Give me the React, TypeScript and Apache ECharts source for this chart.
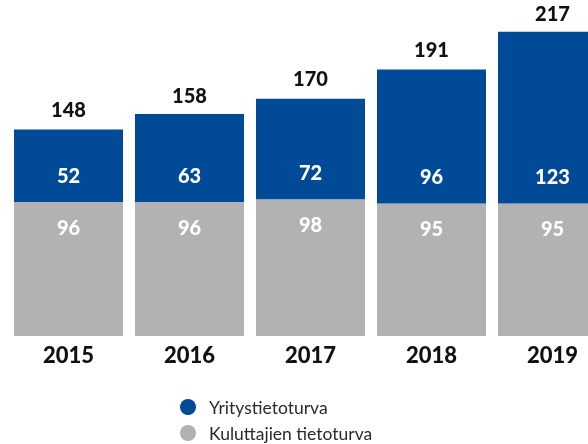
import React, { useEffect, useRef } from "react";
import * as echarts from "echarts";

const years = ["2015", "2016", "2017", "2018", "2019"];
const yritys = [52, 63, 72, 96, 123];
const kuluttajat = [96, 96, 98, 95, 95];
const totals = [148, 158, 170, 191, 217];

const BLUE = "#004A98";
const GRAY = "#B2B2B4";
const FONT = "Lato";

export default function App() {
  const ref = useRef<HTMLDivElement>(null);
  useEffect(() => {
    if (!ref.current) return;
    const chart = echarts.init(ref.current, null, { renderer: "svg" });
    chart.setOption({
      animation: false,
      textStyle: { fontFamily: FONT },
      grid: { left: 8, right: 0, top: 1, bottom: 108, outerBoundsMode: "none" },
      xAxis: {
        type: "category",
        data: years,
        axisLine: { show: false },
        axisTick: { show: false },
        axisLabel: {
          color: "#111",
          fontFamily: FONT,
          fontWeight: 900,
          fontSize: 22,
          margin: 7,
        },
      },
      yAxis: { type: "value", min: 0, max: 240, show: false },
      legend: {
        orient: "vertical",
        left: 180,
        top: 398,
        height: 46,
        padding: 0,
        itemWidth: 16,
        itemHeight: 16,
        itemGap: 8,
        icon: "circle",
        data: ["Yritystietoturva", "Kuluttajien tietoturva"],
        textStyle: {
          color: "#2a2a2a",
          fontFamily: FONT,
          fontSize: 17.5,
          padding: [0, 0, 0, 8],
        },
      },
      series: [
        {
          name: "Kuluttajien tietoturva",
          type: "bar",
          stack: "t",
          barWidth: 109,
          data: kuluttajat,
          itemStyle: { color: GRAY },
          label: {
            show: true,
            position: "insideTop",
            distance: 15,
            color: "#fff",
            fontFamily: FONT,
            fontWeight: 900,
            fontSize: 20,
          },
        },
        {
          name: "Yritystietoturva",
          type: "bar",
          stack: "t",
          barWidth: 109,
          data: yritys,
          itemStyle: { color: BLUE },
          label: {
            show: true,
            position: "insideBottom",
            distance: 17,
            color: "#fff",
            fontFamily: FONT,
            fontWeight: 900,
            fontSize: 20,
          },
        },
        {
          name: "Yhteensä",
          type: "line",
          data: totals,
          symbol: "circle",
          symbolSize: 1,
          itemStyle: { color: "rgba(0,0,0,0)" },
          lineStyle: { width: 0, opacity: 0 },
          silent: true,
          label: {
            show: true,
            position: "top",
            distance: 10,
            color: "#111",
            fontFamily: FONT,
            fontWeight: 900,
            fontSize: 20,
          },
        },
      ],
    });
    return () => chart.dispose();
  }, []);
  return (
    <div
      ref={ref}
      style={{ position: "fixed", left: 0, top: 0, width: 613, height: 444 }}
    />
  );
}
